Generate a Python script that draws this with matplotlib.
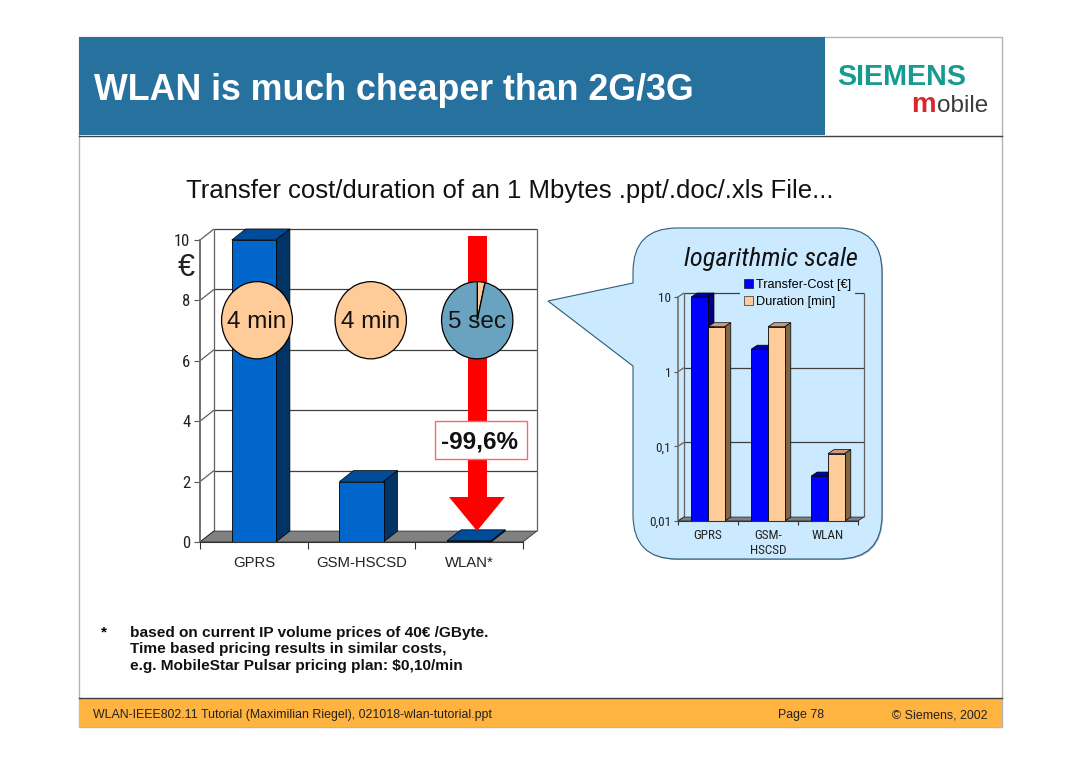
import matplotlib
matplotlib.use('Agg')
import matplotlib.pyplot as plt
from matplotlib.patches import Rectangle, Polygon, PathPatch
from matplotlib.path import Path
from matplotlib.transforms import IdentityTransform

W, H = 1080, 763
SANS = ['Liberation Sans', 'DejaVu Sans']
NARROW = ['Roboto Condensed', 'Liberation Sans', 'DejaVu Sans']

categories = ['GPRS', 'GSM-HSCSD', 'WLAN*']
cost_values = [10, 2, 0.04]
cost_ticks = [0, 2, 4, 6, 8, 10]

log_categories = ['GPRS', 'GSM-\nHSCSD', 'WLAN']
log_cost = [10, 2, 0.04]
log_duration = [4, 4, 0.08]
log_ticks = [0.01, 0.1, 1, 10]
log_tick_labels = ['0,01', '0,1', '1', '10']

pie_labels = ['4 min', '4 min', '5 sec']
pie_shares = [[1.0], [1.0], [0.035, 0.965]]

footnote = ['based on current IP volume prices of 40€ /GByte.',
            'Time based pricing results in similar costs,',
            'e.g. MobileStar Pulsar pricing plan: $0,10/min']

plt.rcParams['font.family'] = SANS


def px_axes(fig, x0, y0, x1, y1, zorder):
    return fig.add_axes([x0 / W, 1 - y1 / H, (x1 - x0) / W, (y1 - y0) / H], zorder=zorder)


def poly(ax, pts, color, zorder, edge='black', lw=0.5):
    ax.add_patch(Polygon(pts, closed=True, facecolor=color, edgecolor=edge, linewidth=lw,
                         transform=IdentityTransform(), clip_on=False, zorder=zorder))


def line(ax, xs, ys, color='#404040', lw=0.9, zorder=1):
    ax.plot(xs, ys, color=color, lw=lw, transform=IdentityTransform(), clip_on=False,
            zorder=zorder, solid_capstyle='butt')


def walls(ax, ticks, base, dx, dy, floor_color='#808080'):
    # back wall and side wall, worked out in screen pixels from the data scale
    x0, x1 = ax.get_xlim()
    for t in ticks:
        a = ax.transData.transform((x0, t))
        b = ax.transData.transform((x1, t))
        if t != base:
            line(ax, [a[0] + dx, b[0] + dx], [a[1] + dy, b[1] + dy])
        line(ax, [a[0], a[0] + dx], [a[1], a[1] + dy], color='#606060')
    a = ax.transData.transform((x0, base))
    b = ax.transData.transform((x1, base))
    top = ax.transData.transform((x0, ticks[-1]))
    poly(ax, [a, b, (b[0] + dx, b[1] + dy), (a[0] + dx, a[1] + dy)], floor_color, 1.2, lw=0.4)
    line(ax, [a[0] + dx, a[0] + dx], [a[1] + dy, top[1] + dy], color='#606060')
    line(ax, [b[0] + dx, b[0] + dx], [b[1] + dy, top[1] + dy], color='#606060')


def bar3d(ax, x, width, val, base, dx, dy, front, top, side):
    ax.bar(x, val - base, width, bottom=base, color=front, edgecolor='black', linewidth=0.6, zorder=3)
    l = ax.transData.transform((x - width / 2, val))
    r = ax.transData.transform((x + width / 2, val))
    b = ax.transData.transform((x + width / 2, base))
    poly(ax, [l, r, (r[0] + dx, r[1] + dy), (l[0] + dx, l[1] + dy)], top, 2.5)
    poly(ax, [r, b, (b[0] + dx, b[1] + dy), (r[0] + dx, r[1] + dy)], side, 2.5)


fig = plt.figure(figsize=(W / 100, H / 100), dpi=100, facecolor='white')

# slide furniture, in pixels
slide = fig.add_axes([0, 0, 1, 1], zorder=0)
slide.set_xlim(0, W)
slide.set_ylim(H, 0)
slide.axis('off')
slide.add_patch(Rectangle((79, 37), 923, 690, fc='white', ec='#b4b4b4', lw=1))
slide.add_patch(Rectangle((79, 37), 746, 98, fc='#27719e', ec='none'))
slide.plot([79, 1002], [135.5, 135.5], color='#404040', lw=1)
slide.add_patch(Rectangle((79, 698), 923, 29, fc='#ffb340', ec='none'))
slide.plot([79, 1002], [698, 698], color='#404040', lw=1)
slide.text(94, 91, 'WLAN is much cheaper than 2G/3G', color='white', fontsize=25.75,
           fontweight='bold', va='center')
slide.text(837, 77, 'SIEMENS', color='#169b92', fontsize=20.7, fontweight='bold', va='center')
slide.text(911, 105, 'm', color='#d8262e', fontsize=20, fontweight='bold', va='center')
slide.text(937, 106, 'obile', color='#3c3c3c', fontsize=17.5, va='center')
slide.text(510, 191, 'Transfer cost/duration of an 1 Mbytes .ppt/.doc/.xls File...', fontsize=18.5,
           ha='center', va='center', color='#111111')
slide.text(101, 632, '*', fontsize=11, fontweight='bold', va='center')
for i, row in enumerate(footnote):
    slide.text(130, 633 + i * 16.5, row, fontsize=11.1, fontweight='bold', va='center', color='#111111')
slide.text(93, 715, 'WLAN-IEEE802.11 Tutorial (Maximilian Riegel), 021018-wlan-tutorial.ppt',
           fontsize=8.96, va='center', color='#222222')
slide.text(778, 715, 'Page 78', fontsize=8.96, va='center', color='#222222')
slide.text(988, 715, '© Siemens, 2002', fontsize=8.96, va='center', ha='right', color='#222222')

# speech bubble behind the log chart
bx0, by0, bx1, by1, rad = 633, 228, 882, 559, 44
codes = [Path.MOVETO, Path.LINETO, Path.CURVE3, Path.CURVE3, Path.LINETO, Path.CURVE3, Path.CURVE3,
         Path.LINETO, Path.CURVE3, Path.CURVE3, Path.LINETO, Path.LINETO, Path.LINETO, Path.LINETO,
         Path.CURVE3, Path.CURVE3, Path.CLOSEPOLY]
verts = [(bx0 + rad, by0), (bx1 - rad, by0), (bx1, by0), (bx1, by0 + rad), (bx1, by1 - rad),
         (bx1, by1), (bx1 - rad, by1), (bx0 + rad, by1), (bx0, by1), (bx0, by1 - rad), (bx0, 366),
         (548, 301), (633, 283), (bx0, by0 + rad), (bx0, by0), (bx0 + rad, by0), (bx0 + rad, by0)]
slide.add_patch(PathPatch(Path([(x + 1, y + 1) for x, y in verts], codes), fc='#a9a9bc', ec='none'))
slide.add_patch(PathPatch(Path(verts, codes), fc='#cceaff', ec='#2f5f78', lw=0.8))
slide.text(771, 259, 'logarithmic scale', family=NARROW, style='italic', fontsize=19,
           ha='center', va='center', color='#111111')

# main linear chart
ax = px_axes(fig, 200, 240, 523, 542, 1)
ax.set_xlim(-0.5, 2.5)
ax.set_ylim(0, 10)
ax.patch.set_visible(False)
for s in ['top', 'right']:
    ax.spines[s].set_visible(False)
ax.spines['left'].set_color('#707070')
ax.spines['left'].set_linewidth(1.4)
ax.spines['bottom'].set_color('#333333')
ax.spines['bottom'].set_zorder(4)
ax.set_yticks(cost_ticks)
ax.set_yticklabels([str(t) for t in cost_ticks], family=NARROW, fontsize=12)
ax.set_xticks([-0.5, 0.5, 1.5, 2.5])
ax.set_xticklabels([])
ax.set_xticks(range(3), categories, minor=True, fontsize=10.7)
ax.tick_params(axis='x', which='minor', length=0, pad=10, colors='#222222')
ax.tick_params(axis='x', which='major', length=5, color='#333333')
ax.tick_params(axis='y', length=4, color='#555555', pad=3, labelcolor='#222222')
walls(ax, cost_ticks, 0, 14, 11)
for i, v in enumerate(cost_values):
    bar3d(ax, i, 0.41, v, 0, 14, 11, '#0066cc', '#004c99', '#003366')

# arrow, € sign and percentage box go over the chart
over = fig.add_axes([0, 0, 1, 1], zorder=2)
over.set_xlim(0, W)
over.set_ylim(H, 0)
over.axis('off')
over.add_patch(Polygon([(468, 236), (487, 236), (487, 497), (505, 497), (477, 531), (449, 497), (468, 497)],
                       closed=True, fc='#ff0000', ec='none'))
over.add_patch(Rectangle((434.5, 421), 92, 38, fc='white', ec='#ff6666', lw=1))
over.text(479, 442, '-99,6%', fontsize=17.5, fontweight='bold', ha='center', va='center', color='#111111')
over.text(186, 268, '€', fontsize=22, ha='center', va='center', color='#222222')

# one pie per bar for the duration
pie_boxes = [(221.5, 281.5, 292.5, 359), (335, 281.5, 406.5, 359), (441.5, 281.5, 513, 359)]
for box, label, share in zip(pie_boxes, pie_labels, pie_shares):
    pax = px_axes(fig, box[0] - 1, box[1] - 1, box[2] + 1, box[3] + 1, 3)
    if len(share) == 1:
        cols = ['#ffcc99']
    else:
        cols = ['#ffcc99', '#6aa3c0']
    pax.pie(share, colors=cols, startangle=90, counterclock=False, radius=1,
            wedgeprops={'edgecolor': 'black', 'linewidth': 0.9})
    pax.set_aspect('auto')
    pax.set_xlim(-1.03, 1.03)
    pax.set_ylim(-1.03, 1.03)
    pax.text(0, -0.04, label, fontsize=17.5, ha='center', va='center', color='#111111')

# log chart
lax = px_axes(fig, 678, 297, 858, 521, 1)
lax.set_yscale('log')
lax.set_xlim(-0.5, 2.5)
lax.set_ylim(0.01, 10)
lax.patch.set_visible(False)
for s in ['top', 'right']:
    lax.spines[s].set_visible(False)
lax.spines['left'].set_color('#707070')
lax.spines['left'].set_linewidth(1.2)
lax.spines['bottom'].set_color('#333333')
lax.spines['bottom'].set_zorder(4)
lax.set_yticks(log_ticks)
lax.set_yticklabels(log_tick_labels, family=NARROW, fontsize=9.5)
lax.minorticks_off()
lax.set_xticks([-0.5, 0.5, 1.5, 2.5])
lax.set_xticklabels([])
lax.set_xticks(range(3), log_categories, minor=True, family=NARROW, fontsize=9.5, linespacing=1.25)
lax.tick_params(axis='x', which='minor', length=0, pad=5.5, colors='#222222')
lax.tick_params(axis='x', which='major', length=3, color='#333333')
lax.tick_params(axis='y', length=3, color='#555555', pad=2, labelcolor='#222222')
walls(lax, log_ticks, 0.01, 6, 4)
for i in range(3):
    bar3d(lax, i - 0.14, 0.28, log_cost[i], 0.01, 6, 4, '#0000ff', '#0000a8', '#000080')
    bar3d(lax, i + 0.14, 0.28, log_duration[i], 0.01, 6, 4, '#ffcc99', '#cc9980', '#806648')

handles = [Rectangle((0, 0), 1, 1, fc='#0000ff', ec='black', lw=0.4),
           Rectangle((0, 0), 1, 1, fc='#ffcc99', ec='black', lw=0.4)]
leg = lax.legend(handles, ['Transfer-Cost [€]', 'Duration [min]'], loc='upper left',
                 bbox_to_anchor=((740 - 678) / 180, (297 - 275) / 224 + 1), fontsize=9.2, frameon=True,
                 facecolor='#cceaff', edgecolor='none', framealpha=1, handlelength=0.7, handleheight=0.7,
                 handletextpad=0.25, labelspacing=0.4, borderpad=0.3, borderaxespad=0, fancybox=False)
leg.set_zorder(6)

fig.savefig('out.png', dpi=100)
